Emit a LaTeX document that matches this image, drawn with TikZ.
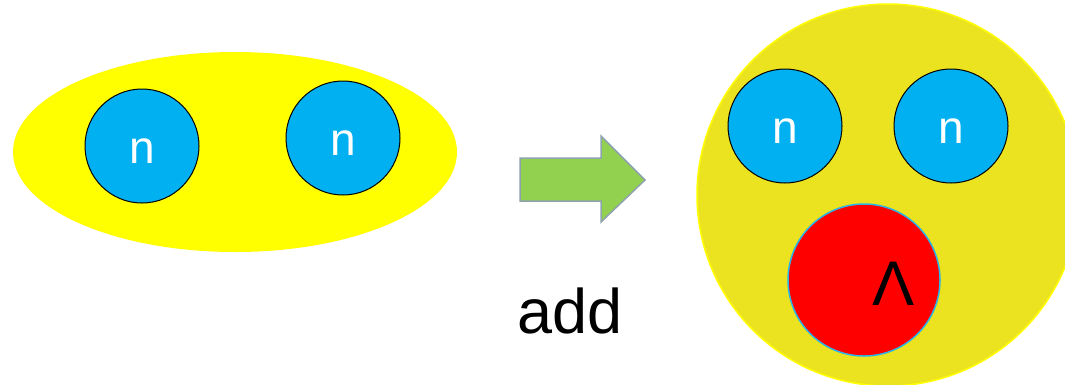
\documentclass[tikz,border=0pt]{standalone}
\usepackage{fontspec}
\setmainfont{Liberation Sans}
\usetikzlibrary{shapes.geometric}
\definecolor{pyellow}{HTML}{FFFF00}
\definecolor{dyellow}{HTML}{EBE320}
\definecolor{nblue}{HTML}{00B0F0}
\definecolor{agreen}{HTML}{92D050}
\definecolor{agray}{HTML}{8EA3AD}
\definecolor{lred}{HTML}{FF0000}
\definecolor{lblue}{HTML}{2AB4E8}
\begin{document}
\begin{tikzpicture}[x=1pt,y=-1pt,
  neutron/.style={circle,fill=nblue,draw=black,line width=1pt,minimum size=114pt,inner sep=0pt},
  ntext/.style={text=white,font=\fontsize{46}{46}\selectfont,anchor=base,inner sep=0pt},
  big/.style={font=\fontsize{63}{63}\selectfont,anchor=base,inner sep=0pt}]
\useasboundingbox (0,0) rectangle (1065,384);
\clip (0,0) rectangle (1065,384);
% left nucleus
\node[ellipse,fill=pyellow,minimum width=444pt,minimum height=200pt,inner sep=0pt] (e) at (235,152) {};
\node[neutron] (n1) at (142,146) {};
\node[ntext] (t1) at (142,163) {n};
\node[neutron] (n2) at (343,138) {};
\node[ntext] (t2) at (343,155) {n};
% arrow
\draw[fill=agreen,draw=agray,line width=1.5pt,line join=miter] (520,158) -- (601,158) -- (601,136) -- (645,180) -- (601,222) -- (601,201) -- (520,201) -- cycle;
\node[big] (add) at (570,333) {add};
% right hypernucleus
\node[circle,fill=dyellow,draw=pyellow,line width=1.5pt,minimum size=382pt,inner sep=0pt] (h) at (888,195) {};
\node[neutron] (n3) at (785,126) {};
\node[ntext] (t3) at (785,143) {n};
\node[neutron] (n4) at (951,126) {};
\node[ntext] (t4) at (951,143) {n};
\node[circle,fill=lred,draw=lblue,line width=1.5pt,minimum size=152pt,inner sep=0pt] (l) at (864,280) {};
\node[big] (lam) at (894,305) {Λ};
\end{tikzpicture}
\end{document}
